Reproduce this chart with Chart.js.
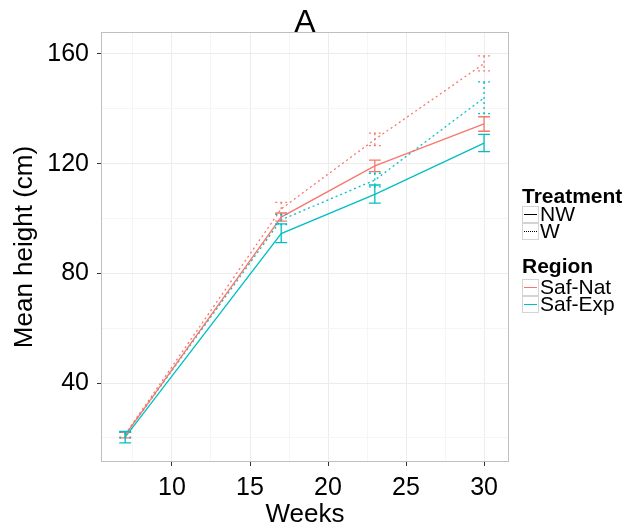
<!DOCTYPE html>
<html>
<head>
<meta charset="utf-8">
<script src="https://cdn.jsdelivr.net/npm/chart.js@4.4.0/dist/chart.umd.min.js"></script>
<style>
  body { margin: 0; background: #fff; }
  #wrap { position: relative; width: 630px; height: 531px; font-family: "Liberation Sans", Arial, sans-serif; color: #000; }
  #myChart { position: absolute; left: 0; top: 0; }
  .title { position: absolute; left: 101px; width: 408px; top: 2px; text-align: center; font-size: 32px; line-height: 38px; }
  .lg-head { position: absolute; left: 522px; font-size: 21px; font-weight: bold; line-height: 24px; }
  .lg-row { position: absolute; left: 522px; height: 17px; }
  .lg-key { position: absolute; left: 0; top: 0; width: 15px; height: 15px; border: 1px solid #d4d4d4; background: #fff; }
  .lg-key span { position: absolute; left: 1px; right: 1px; top: 7px; height: 0; }
  .lg-text { position: absolute; left: 18px; top: -4px; font-size: 21px; line-height: 24px; white-space: nowrap; }
</style>
</head>
<body>
<div id="wrap">
  <canvas id="myChart" width="630" height="531"></canvas>
  <div class="title">A</div>

  <div class="lg-head" style="top:184px">Treatment</div>
  <div class="lg-row" style="top:206px"><div class="lg-key"><span style="border-top:1px solid #000"></span></div><div class="lg-text">NW</div></div>
  <div class="lg-row" style="top:223px"><div class="lg-key"><span style="border-top:1px dotted #000"></span></div><div class="lg-text">W</div></div>

  <div class="lg-head" style="top:254px">Region</div>
  <div class="lg-row" style="top:279px"><div class="lg-key"><span style="border-top:1px solid #F8766D"></span></div><div class="lg-text">Saf-Nat</div></div>
  <div class="lg-row" style="top:296px"><div class="lg-key"><span style="border-top:1px solid #00BFC4"></span></div><div class="lg-text">Saf-Exp</div></div>
</div>
<script>
const weeks = [7, 17, 23, 30];

// mean height (cm) per week, with lower / upper error bar ends
const natNW = [21.0, 100.5, 119.2, 134.5];
const natNWLo = [20.0, 99.0, 117.1, 131.8];
const natNWHi = [22.0, 102.0, 121.3, 137.1];

const natW = [21.3, 103.5, 128.8, 156.5];
const natWLo = [20.3, 101.5, 126.6, 153.8];
const natWHi = [22.3, 105.9, 131.1, 159.3];

const expNW = [20.3, 94.5, 108.8, 127.5];
const expNWLo = [18.2, 91.2, 105.6, 124.4];
const expNWHi = [22.4, 98.0, 112.2, 130.7];

const expW = [21.0, 99.5, 114.0, 144.0];
const expWLo = [20.0, 97.8, 111.5, 138.2];
const expWHi = [22.0, 101.5, 116.5, 149.8];

const xTicks = [7.5, 10, 12.5, 15, 17.5, 20, 22.5, 25, 27.5, 30];
const yTicks = [20, 40, 60, 80, 100, 120, 140, 160];

const NAT = '#F8766D';
const EXP = '#00BFC4';
const DOT = [2, 3];

function series(label, vals, lo, hi, color, dotted) {
  return {
    label,
    data: weeks.map((w, i) => ({ x: w, y: vals[i] })),
    lo, hi,
    borderColor: color,
    borderWidth: 1.3,
    borderDash: dotted ? DOT : [],
    pointRadius: 0,
    tension: 0,
    fill: false,
  };
}

const errorBars = {
  id: 'errorBars',
  afterDatasetsDraw(chart) {
    const { ctx, scales: { x, y } } = chart;
    chart.data.datasets.forEach((ds) => {
      ctx.save();
      ctx.strokeStyle = ds.borderColor;
      ctx.lineWidth = 1.3;
      ctx.setLineDash(ds.borderDash);
      weeks.forEach((w, i) => {
        const px = x.getPixelForValue(w);
        const l = x.getPixelForValue(w - 0.38);
        const r = x.getPixelForValue(w + 0.38);
        const top = y.getPixelForValue(ds.hi[i]);
        const bot = y.getPixelForValue(ds.lo[i]);
        ctx.beginPath();
        ctx.moveTo(px, top); ctx.lineTo(px, bot);
        ctx.moveTo(l, top); ctx.lineTo(r, top);
        ctx.moveTo(l, bot); ctx.lineTo(r, bot);
        ctx.stroke();
      });
      ctx.restore();
    });
    const a = chart.chartArea;
    ctx.save();
    ctx.strokeStyle = '#bfbfbf';
    ctx.lineWidth = 1;
    ctx.strokeRect(a.left + 0.5, a.top + 0.5, a.right - a.left - 1, a.bottom - a.top - 1);
    ctx.restore();
  },
};

const isMajorX = (v) => v % 5 === 0;
const isMajorY = (v) => v % 40 === 0;

new Chart(document.getElementById('myChart'), {
  type: 'line',
  data: {
    datasets: [
      series('Saf-Nat NW', natNW, natNWLo, natNWHi, NAT, false),
      series('Saf-Nat W', natW, natWLo, natWHi, NAT, true),
      series('Saf-Exp NW', expNW, expNWLo, expNWHi, EXP, false),
      series('Saf-Exp W', expW, expWLo, expWHi, EXP, true),
    ],
  },
  options: {
    responsive: false,
    animation: false,
    devicePixelRatio: 1,
    layout: { padding: { left: 0, right: 121, top: 32, bottom: 0 } },
    plugins: { legend: { display: false }, tooltip: { enabled: false }, title: { display: false } },
    scales: {
      x: {
        type: 'linear',
        min: 5.45,
        max: 31.6,
        afterFit: (s) => { s.height = 69; },
        afterBuildTicks: (s) => { s.ticks = xTicks.map((v) => ({ value: v })); },
        border: { display: false },
        grid: {
          color: (c) => (isMajorX(c.tick.value) ? '#ececec' : '#f5f5f5'),
          tickColor: (c) => (isMajorX(c.tick.value) ? '#333' : 'rgba(0,0,0,0)'),
          tickLength: 4,
        },
        ticks: {
          autoSkip: false,
          maxRotation: 0,
          padding: 7,
          color: '#000',
          font: { family: 'Liberation Sans', size: 25 },
          callback: (v) => (isMajorX(v) ? String(v) : ''),
        },
        title: {
          display: true,
          text: 'Weeks',
          color: '#000',
          font: { family: 'Liberation Sans', size: 26 },
          padding: { top: 0, bottom: 1 },
        },
      },
      y: {
        type: 'linear',
        min: 11.2,
        max: 168,
        afterFit: (s) => { s.width = 101; },
        afterBuildTicks: (s) => { s.ticks = yTicks.map((v) => ({ value: v })); },
        border: { display: false },
        grid: {
          color: (c) => (isMajorY(c.tick.value) ? '#ececec' : '#f5f5f5'),
          tickColor: (c) => (isMajorY(c.tick.value) ? '#333' : 'rgba(0,0,0,0)'),
          tickLength: 4,
        },
        ticks: {
          autoSkip: false,
          padding: 8,
          color: '#000',
          font: { family: 'Liberation Sans', size: 25 },
          callback: (v) => (isMajorY(v) ? String(v) : ''),
        },
        title: {
          display: true,
          text: 'Mean height (cm)',
          color: '#000',
          font: { family: 'Liberation Sans', size: 26 },
          padding: { top: 9, bottom: 0 },
        },
      },
    },
  },
  plugins: [errorBars],
});
</script>
</body>
</html>
